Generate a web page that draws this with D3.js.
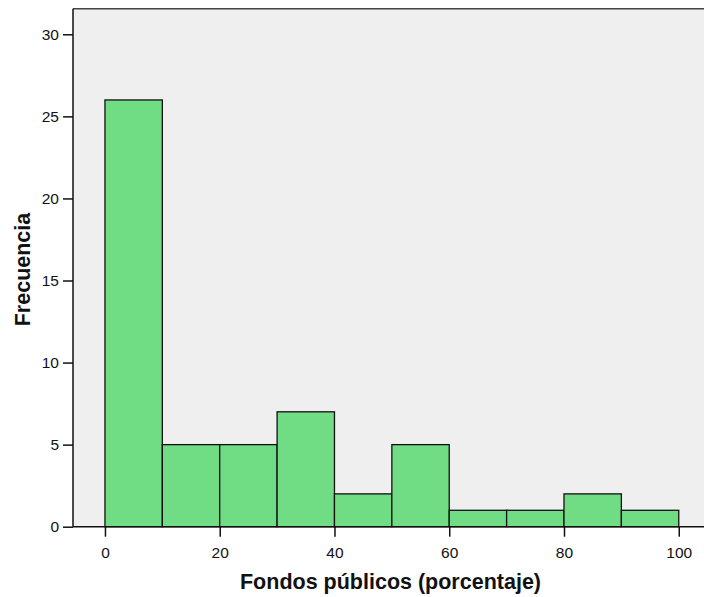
<!DOCTYPE html>
<html><head><meta charset="utf-8">
<script src="https://cdn.jsdelivr.net/npm/d3@7"></script>
<style>body{margin:0;background:#fff}svg{display:block;font-family:"Liberation Sans",Arial,sans-serif}</style>
</head><body><svg id="c" width="704" height="597"></svg>
<script>
const binStarts = [0,10,20,30,40,50,60,70,80,90];
const binWidth = 10;
const counts = [26,5,5,7,2,5,1,1,2,1];
const xTicks = [0,20,40,60,80,100];
const yTicks = [0,5,10,15,20,25,30];
const xTitle = "Fondos públicos (porcentaje)";
const yTitle = "Frecuencia";

const svg = d3.select("#c");
const L = 73, R = 704, T = 8.7, B = 526.7;
const x = d3.scaleLinear().domain([-5.57, 104.4]).range([L, R]);
const y = d3.scaleLinear().domain([0, 31.56]).range([B, T]);

svg.append("rect").attr("x", L).attr("y", T).attr("width", R - L).attr("height", B - T).attr("fill", "#efefef");
svg.append("line").attr("x1", L).attr("x2", R).attr("y1", T).attr("y2", T).attr("stroke", "#444").attr("stroke-width", 1.5);

svg.append("g").selectAll("rect").data(binStarts).join("rect")
  .attr("x", d => x(d)).attr("width", d => x(d + binWidth) - x(d))
  .attr("y", (d, i) => y(counts[i])).attr("height", (d, i) => y(0) - y(counts[i]))
  .attr("fill", "#70dc84").attr("stroke", "#111").attr("stroke-width", 1.3);

const ya = svg.append("g").attr("transform", `translate(${L},0)`)
  .call(d3.axisLeft(y).tickValues(yTicks).tickSize(10).tickPadding(4).tickSizeOuter(0));
ya.select(".domain").attr("stroke", "#111").attr("stroke-width", 1.5).attr("d", `M0,${T}V${B}`);
ya.selectAll(".tick line").attr("stroke", "#111").attr("stroke-width", 1.5);
ya.selectAll("text").attr("font-size", 15.5).attr("fill", "#111").attr("font-family", "Liberation Sans, Arial, sans-serif");

const xa = svg.append("g").attr("transform", `translate(0,${B})`)
  .call(d3.axisBottom(x).tickValues(xTicks).tickSize(10).tickPadding(10).tickSizeOuter(0));
xa.select(".domain").attr("stroke", "#111").attr("stroke-width", 1.5).attr("d", `M${L},0H${R}`);
xa.selectAll(".tick line").attr("stroke", "#111").attr("stroke-width", 1.5);
xa.selectAll("text").attr("font-size", 15.5).attr("fill", "#111").attr("font-family", "Liberation Sans, Arial, sans-serif");

svg.append("text").attr("x", 390.5).attr("y", 589).attr("text-anchor", "middle")
  .attr("font-size", 21.5).attr("font-weight", "bold").attr("fill", "#111").text(xTitle);
svg.append("text").attr("transform", "translate(29.5,269.5) rotate(-90)").attr("text-anchor", "middle")
  .attr("font-size", 21.5).attr("font-weight", "bold").attr("fill", "#111").text(yTitle);
</script></body></html>
